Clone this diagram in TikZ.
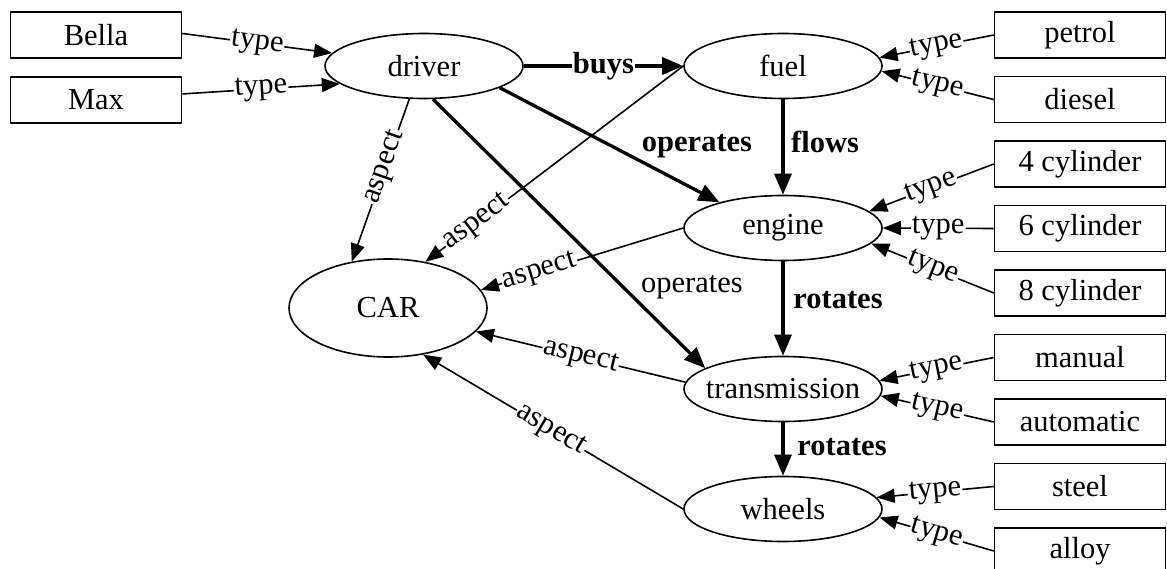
\documentclass[tikz,border=0pt]{standalone}
\usepackage{fontspec}
\setmainfont{Liberation Serif}
\usetikzlibrary{arrows.meta,shapes.geometric}
\begin{document}
\begin{tikzpicture}[x=1pt,y=-1pt,
  txt/.style={font=\fontsize{30.5}{34}\selectfont},
  btxt/.style={font=\fontsize{30.5}{34}\selectfont\bfseries},
  box/.style={txt,draw,line width=1.6pt,minimum width=171pt,minimum height=46pt,inner sep=0pt},
  ell/.style={txt,draw,ellipse,line width=1.6pt,minimum width=198pt,minimum height=65pt,inner sep=0pt},
  tarr/.style={line width=1.6pt,-{Triangle[length=18pt,width=14pt]}},
  barr/.style={line width=3.3pt,-{Triangle[length=21pt,width=17pt]}},
  lbl/.style={txt,fill=white,inner sep=1pt,sloped},
  blbl/.style={btxt,fill=white,inner sep=1pt},
]
\useasboundingbox (0,0) rectangle (1167,569);

% left boxes
\node[box] (Bella) at (96,35) {Bella};
\node[box] (Max) at (96,100) {Max};

% right boxes
\node[box] (petrol) at (1080,35) {petrol};
\node[box] (diesel) at (1080,99.5) {diesel};
\node[box] (cyl4) at (1080,164) {4 cylinder};
\node[box] (cyl6) at (1080,228.5) {6 cylinder};
\node[box] (cyl8) at (1080,293) {8 cylinder};
\node[box] (manual) at (1080,357.5) {manual};
\node[box] (automatic) at (1080,422) {automatic};
\node[box] (steel) at (1080,486.5) {steel};
\node[box] (alloy) at (1080,551) {alloy};

% ellipses
\node[ell] (driver) at (424,66) {\makebox[0pt]{driver}};
\node[ell] (fuel) at (783,66) {\makebox[0pt]{fuel}};
\node[ell] (engine) at (783,228) {\makebox[0pt]{engine}};
\node[ell] (transmission) at (783,389) {\makebox[0pt]{transmission}};
\node[ell] (wheels) at (783,509) {\makebox[0pt]{wheels}};
\node[ell,minimum height=98pt] (CAR) at (388,308) {\makebox[0pt]{CAR}};

% type edges (left)
\draw[tarr] (Bella.1) -- node[lbl,pos=0.5]{type} (driver.172);
\draw[tarr] (Max.4) -- node[lbl,pos=0.5]{type} (driver.192);

% type edges (right)
\draw[tarr] (petrol.west) -- node[lbl,pos=0.5]{type} (fuel.5);
\draw[tarr] (diesel.west) -- node[lbl,pos=0.5]{type} (fuel.-3.5);
\draw[tarr] (cyl4.west) -- node[lbl,pos=0.5]{type} (engine.11);
\draw[tarr] (cyl6.west) -- node[lbl,pos=0.5]{type} (engine.east);
\draw[tarr] (cyl8.west) -- node[lbl,pos=0.5]{type} (engine.-10);
\draw[tarr] (manual.west) -- node[lbl,pos=0.5]{type} (transmission.5);
\draw[tarr] (automatic.west) -- node[lbl,pos=0.5]{type} (transmission.-4.6);
\draw[tarr] (steel.west) -- node[lbl,pos=0.5]{type} (wheels.7);
\draw[tarr] (alloy.west) -- node[lbl,pos=0.5]{type} (wheels.-5);

% aspect edges
\draw[tarr] (driver.246) -- node[lbl,pos=0.42]{aspect} (CAR.128);
\draw[tarr] (fuel.west) -- node[lbl,pos=0.8]{aspect} (CAR.51);
\draw[tarr] (engine.west) -- node[lbl,pos=0.71]{aspect} (CAR.11);
\draw[tarr] (transmission.176) -- node[lbl,pos=0.5]{aspect} (CAR.-15.5);
\draw[tarr] (wheels.west) -- node[lbl,pos=0.51]{aspect} (CAR.-53);

% bold edges
\draw[barr] (driver.east) -- node[blbl,pos=0.5]{buys} (fuel.west);
\draw[barr] (driver.-16) -- (engine.158.5);
\draw[barr] (driver.-75) -- (transmission.165);
\draw[barr] (fuel.south) -- (engine.north);
\draw[barr] (engine.south) -- (transmission.north);
\draw[barr] (transmission.south) -- (wheels.north);

% free labels
\node[btxt] (lop1) at (697,146) {operates};
\node[txt] (lop2) at (692,287) {operates};
\node[btxt] (lflows) at (825,142) {flows};
\node[btxt] (lrot1) at (838,300) {rotates};
\node[btxt] (lrot2) at (842,447) {rotates};
\end{tikzpicture}
\end{document}
